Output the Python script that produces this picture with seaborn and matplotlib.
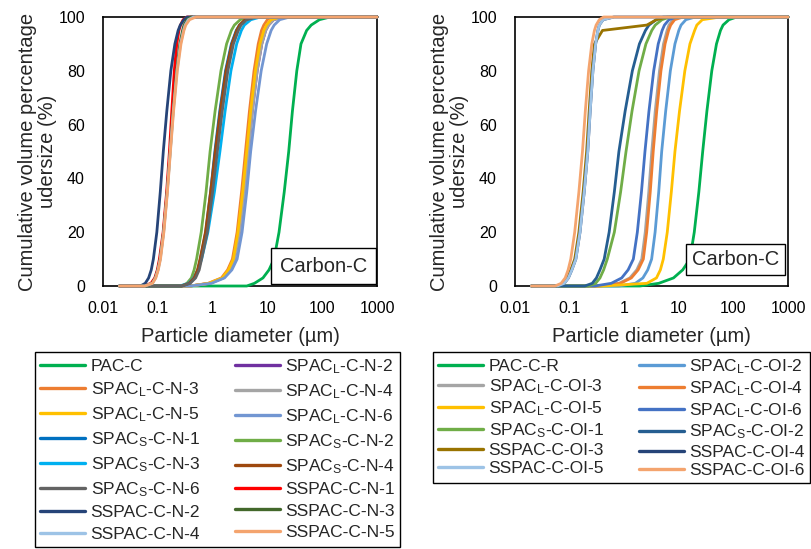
import numpy as np
import pandas as pd
import matplotlib
matplotlib.use("Agg")
import matplotlib.pyplot as plt
from matplotlib.ticker import FixedLocator, FuncFormatter, LogLocator, NullFormatter
import seaborn as sns

# Cumulative undersize levels (%) at which each particle diameter (um) is given
PCT = [0, 1, 3, 6, 10, 20, 35, 50, 65, 80, 90, 95, 97, 99, 100]
D_MIN, D_MAX = 0.02, 1000  # measurement range of the analyser (um)

# ---- Nitrogen-treated series (left panel) ----
PAC_C = [4.2, 5.8, 8.3, 10.7, 13.2, 16.3, 20.3, 24.5, 28.6, 34.4, 41, 52, 63, 89, 139]
SPAC_L_C_N_2 = [0.39, 0.9, 1.55, 2.02, 2.5, 3.1, 3.8, 4.5, 5.3, 6.5, 7.9, 9.3, 10.5, 13, 20]
SPAC_L_C_N_3 = [0.39, 0.83, 1.45, 1.88, 2.3, 2.8, 3.38, 3.98, 4.7, 5.7, 6.8, 7.8, 8.6, 10, 12]
SPAC_L_C_N_4 = [0.39, 0.9, 1.55, 2.02, 2.5, 3.1, 3.8, 4.5, 5.3, 6.5, 7.9, 9.3, 10.5, 13, 20]
SPAC_L_C_N_5 = [0.39, 0.85, 1.5, 1.95, 2.39, 2.9, 3.54, 4.19, 4.95, 6.05, 7.3, 8.6, 9.6, 11.7, 17]
SPAC_L_C_N_6 = [0.39, 0.95, 1.65, 2.25, 2.8, 3.45, 4.2, 4.95, 6.07, 7.7, 9.7, 11.7, 13.3, 16.8, 25.7]
SPAC_S_C_N_1 = [0.27, 0.38, 0.47, 0.54, 0.6, 0.75, 0.92, 1.1, 1.35, 1.72, 2.2, 2.7, 3.1, 4.0, 6.0]
SPAC_S_C_N_2 = [0.27, 0.34, 0.41, 0.46, 0.51, 0.62, 0.76, 0.9, 1.11, 1.42, 1.8, 2.2, 2.5, 3.2, 4.2]
SPAC_S_C_N_3 = [0.25, 0.36, 0.45, 0.54, 0.63, 0.82, 1.08, 1.36, 1.69, 2.16, 2.75, 3.35, 3.8, 5.0, 7.5]
SPAC_S_C_N_4 = [0.27, 0.37, 0.46, 0.53, 0.59, 0.74, 0.92, 1.12, 1.38, 1.76, 2.25, 2.75, 3.1, 3.9, 6.0]
SPAC_S_C_N_6 = [0.28, 0.39, 0.49, 0.57, 0.63, 0.8, 1.0, 1.22, 1.5, 1.9, 2.4, 2.95, 3.3, 4.2, 6.5]
SSPAC_C_N_1 = [0.055, 0.075, 0.088, 0.098, 0.107, 0.125, 0.145, 0.163, 0.18, 0.2, 0.222, 0.243, 0.26, 0.29, 0.34]
SSPAC_C_N_2 = [0.048, 0.059, 0.068, 0.076, 0.083, 0.096, 0.111, 0.126, 0.146, 0.173, 0.205, 0.235, 0.257, 0.3, 0.34]
SSPAC_C_N_3 = [0.058, 0.079, 0.09, 0.1, 0.11, 0.127, 0.148, 0.168, 0.19, 0.22, 0.252, 0.283, 0.3, 0.34, 0.4]
SSPAC_C_N_4 = [0.058, 0.08, 0.091, 0.101, 0.111, 0.128, 0.149, 0.169, 0.192, 0.224, 0.26, 0.295, 0.315, 0.36, 0.45]
SSPAC_C_N_5 = [0.058, 0.08, 0.092, 0.102, 0.112, 0.129, 0.15, 0.17, 0.194, 0.227, 0.265, 0.3, 0.324, 0.38, 0.5]

# ---- Oil-treated series (right panel) ----
PAC_C_R = [1.95, 4.3, 8.0, 11.8, 16, 19.2, 23.3, 27.4, 32.7, 40.2, 49, 58, 64.6, 83, 115]
SPAC_L_C_OI_2 = [0.8, 1.6, 2.2, 2.7, 3.18, 3.68, 4.29, 4.86, 5.75, 7.0, 8.5, 10.0, 11.0, 13.5, 20]
SPAC_L_C_OI_3 = [0.36, 0.8, 1.27, 1.7, 2.1, 2.43, 2.82, 3.2, 3.7, 4.43, 5.25, 6.1, 6.6, 7.8, 10.5]
SPAC_L_C_OI_4 = [0.36, 0.85, 1.35, 1.8, 2.24, 2.58, 3.0, 3.4, 3.94, 4.71, 5.6, 6.5, 7.1, 8.4, 12]
SPAC_L_C_OI_5 = [0.41, 2.6, 3.9, 4.6, 5.2, 6.15, 7.3, 8.5, 10.3, 12.9, 16, 19.5, 21.4, 27, 57]
SPAC_L_C_OI_6 = [0.29, 0.58, 0.9, 1.18, 1.47, 1.74, 2.07, 2.4, 2.84, 3.47, 4.2, 4.95, 5.46, 6.6, 9.1]
SPAC_S_C_OI_1 = [0.22, 0.3, 0.36, 0.42, 0.49, 0.66, 0.86, 1.08, 1.39, 1.87, 2.5, 3.2, 3.7, 4.9, 6.9]
SPAC_S_C_OI_2 = [0.19, 0.26, 0.31, 0.36, 0.43, 0.53, 0.66, 0.8, 1.04, 1.41, 1.9, 2.45, 2.84, 3.85, 5.2]
SSPAC_C_OI_3 = [0.058, 0.078, 0.092, 0.105, 0.124, 0.148, 0.177, 0.205, 0.228, 0.255, 0.285, 0.4, 2.6, 3.9, 6.2]
SSPAC_C_OI_4 = [0.06, 0.08, 0.095, 0.11, 0.13, 0.155, 0.185, 0.215, 0.238, 0.267, 0.3, 0.33, 0.35, 0.41, 0.65]
SSPAC_C_OI_5 = [0.06, 0.08, 0.095, 0.11, 0.13, 0.155, 0.185, 0.215, 0.238, 0.267, 0.3, 0.33, 0.35, 0.41, 0.65]
SSPAC_C_OI_6 = [0.054, 0.07, 0.083, 0.094, 0.105, 0.124, 0.148, 0.172, 0.194, 0.223, 0.255, 0.285, 0.306, 0.35, 0.42]

L = r"SPAC$_\mathregular{L}$"
S = r"SPAC$_\mathregular{S}$"

SERIES_N = [
    ("PAC-C", PAC_C, "#00B050"),
    (L + "-C-N-2", SPAC_L_C_N_2, "#7030A0"),
    (L + "-C-N-3", SPAC_L_C_N_3, "#ED7D31"),
    (L + "-C-N-4", SPAC_L_C_N_4, "#A5A5A5"),
    (L + "-C-N-5", SPAC_L_C_N_5, "#FFC000"),
    (L + "-C-N-6", SPAC_L_C_N_6, "#7296D2"),
    (S + "-C-N-1", SPAC_S_C_N_1, "#0070C0"),
    (S + "-C-N-2", SPAC_S_C_N_2, "#70AD47"),
    (S + "-C-N-3", SPAC_S_C_N_3, "#00B0F0"),
    (S + "-C-N-4", SPAC_S_C_N_4, "#9E480E"),
    (S + "-C-N-6", SPAC_S_C_N_6, "#636363"),
    ("SSPAC-C-N-1", SSPAC_C_N_1, "#FF0000"),
    ("SSPAC-C-N-2", SSPAC_C_N_2, "#264478"),
    ("SSPAC-C-N-3", SSPAC_C_N_3, "#43682B"),
    ("SSPAC-C-N-4", SSPAC_C_N_4, "#9DC3E6"),
    ("SSPAC-C-N-5", SSPAC_C_N_5, "#F4A46E"),
]

SERIES_OI = [
    ("PAC-C-R", PAC_C_R, "#00B050"),
    (L + "-C-OI-2", SPAC_L_C_OI_2, "#5B9BD5"),
    (L + "-C-OI-3", SPAC_L_C_OI_3, "#A5A5A5"),
    (L + "-C-OI-4", SPAC_L_C_OI_4, "#ED7D31"),
    (L + "-C-OI-5", SPAC_L_C_OI_5, "#FFC000"),
    (L + "-C-OI-6", SPAC_L_C_OI_6, "#4472C4"),
    (S + "-C-OI-1", SPAC_S_C_OI_1, "#70AD47"),
    (S + "-C-OI-2", SPAC_S_C_OI_2, "#255E91"),
    ("SSPAC-C-OI-3", SSPAC_C_OI_3, "#997300"),
    ("SSPAC-C-OI-4", SSPAC_C_OI_4, "#264478"),
    ("SSPAC-C-OI-5", SSPAC_C_OI_5, "#9DC3E6"),
    ("SSPAC-C-OI-6", SSPAC_C_OI_6, "#F4A46E"),
]

sns.set_theme(style="white")
plt.rcParams["font.family"] = ["Liberation Sans", "DejaVu Sans"]
plt.rcParams["mathtext.default"] = "regular"

W, H = 811, 549
fig = plt.figure(figsize=(W / 100, H / 100), dpi=100)


def long_frame(series):
    rows = []
    for name, diam, _ in series:
        xs = [D_MIN] + list(diam) + [D_MAX]
        ys = [0] + list(PCT) + [100]
        for x, y in zip(xs, ys):
            rows.append({"series": name, "d": x, "pct": y})
    return pd.DataFrame(rows)


def draw_panel(ax, series):
    df = long_frame(series)
    order = [s[0] for s in series]
    palette = {s[0]: s[2] for s in series}
    sns.lineplot(data=df, x="d", y="pct", hue="series", hue_order=order,
                 palette=palette, estimator=None, sort=False, lw=2.0,
                 ax=ax, legend=True)
    for ln in ax.get_lines():
        ln.set_clip_on(False)
        ln.set_zorder(3)
    ax.set_xscale("log")
    ax.set_xlim(0.01, 1000)
    ax.set_ylim(0, 100)
    ax.xaxis.set_major_locator(FixedLocator([0.01, 0.1, 1, 10, 100, 1000]))
    ax.xaxis.set_major_formatter(FuncFormatter(lambda v, p: f"{v:g}"))
    ax.xaxis.set_minor_locator(LogLocator(base=10, subs=np.arange(2, 10)))
    ax.xaxis.set_minor_formatter(NullFormatter())
    ax.yaxis.set_major_locator(FixedLocator([0, 20, 40, 60, 80, 100]))
    ax.yaxis.set_minor_locator(FixedLocator([10, 30, 50, 70, 90]))
    ax.tick_params(axis="both", which="both", direction="in", color="black",
                   labelsize=11.5, labelcolor="black")
    ax.tick_params(axis="x", which="both", pad=11)
    ax.tick_params(axis="y", which="both", pad=13)
    ax.tick_params(axis="both", which="major", length=4, width=1)
    ax.tick_params(axis="both", which="minor", length=3, width=1)
    for sp in ax.spines.values():
        sp.set_visible(True)
        sp.set_color("black")
        sp.set_linewidth(1.2)
    ax.set_xlabel("Particle diameter (\u00b5m)", fontsize=14.5, labelpad=8)
    ax.set_ylabel("Cumulative volume percentage\nudersize (%)", fontsize=14.5,
                  linespacing=1.05, labelpad=1)
    ax.set_facecolor("white")
    handles, labels = ax.get_legend_handles_labels()
    ax.get_legend().remove()
    return handles, labels


def row_major(handles, labels):
    idx = list(range(0, len(handles), 2)) + list(range(1, len(handles), 2))
    return [handles[i] for i in idx], [labels[i] for i in idx]


ax1 = fig.add_axes([103 / W, 1 - 286 / H, 274 / W, 269 / H])
ax2 = fig.add_axes([515 / W, 1 - 286 / H, 273 / W, 269 / H])

h1, l1 = draw_panel(ax1, SERIES_N)
h2, l2 = draw_panel(ax2, SERIES_OI)

ax1.text(0.805, 0.073, "Carbon-C", transform=ax1.transAxes, ha="center",
         va="center", fontsize=14.5, zorder=5,
         bbox=dict(boxstyle="square,pad=0.42", fc="white", ec="black", lw=1.0))
ax2.text(0.808, 0.097, "Carbon-C", transform=ax2.transAxes, ha="center",
         va="center", fontsize=14.5, zorder=5,
         bbox=dict(boxstyle="square,pad=0.3", fc="white", ec="black", lw=1.0))

for h in h1 + h2:
    h.set_linewidth(2.4)

hh, ll = row_major(h1, l1)
leg1 = fig.legend(hh, ll, ncol=2, loc="upper left",
                  bbox_to_anchor=(35 / W, 1 - 352 / H, 365 / W, 0.0),
                  mode="expand", fontsize=12.5, frameon=True, fancybox=False,
                  edgecolor="black", framealpha=1, handlelength=2.6,
                  handletextpad=0.3, labelspacing=0.36, borderaxespad=0,
                  borderpad=0.3)
leg1.get_frame().set_linewidth(1.0)

hh, ll = row_major(h2, l2)
leg2 = fig.legend(hh, ll, ncol=2, loc="upper left",
                  bbox_to_anchor=(433 / W, 1 - 352 / H, 377 / W, 0.0),
                  mode="expand", fontsize=12.5, frameon=True, fancybox=False,
                  edgecolor="black", framealpha=1, handlelength=2.6,
                  handletextpad=0.3, labelspacing=0.18, borderaxespad=0,
                  borderpad=0.3)
leg2.get_frame().set_linewidth(1.0)

fig.savefig("out.png", dpi=100, facecolor="white")
